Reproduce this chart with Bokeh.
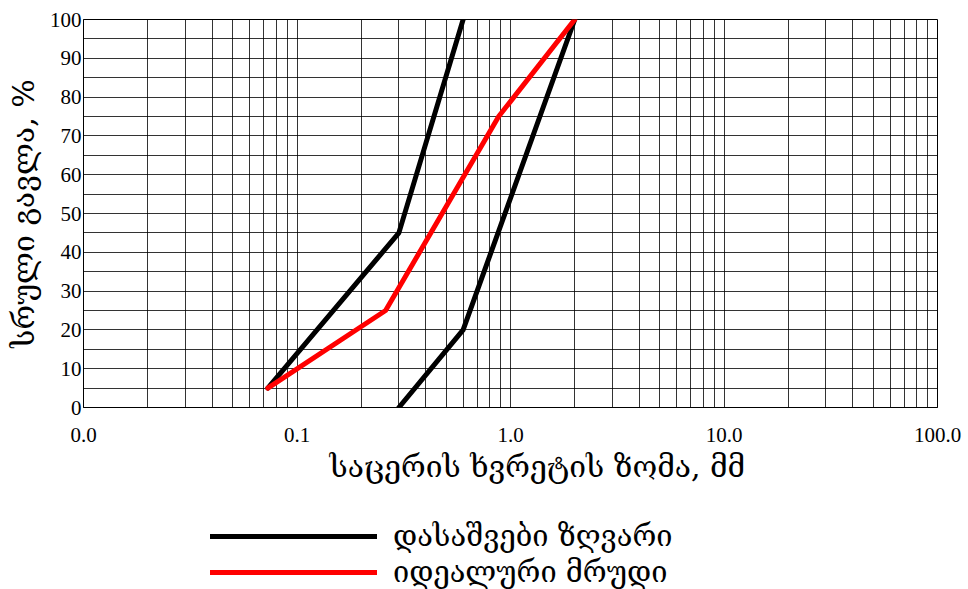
from bokeh.plotting import figure
from bokeh.layouts import column
from bokeh.models import Legend, LegendItem, FixedTicker, Range1d, Title
from bokeh.embed import file_html
from bokeh.resources import INLINE

# Grain size distribution: sieve opening (mm) vs. total passing (%)
limit_fine_size = [0.073, 0.3, 0.6]
limit_fine_pass = [5, 45, 100]
limit_coarse_size = [0.3, 0.6, 2.0]
limit_coarse_pass = [0, 20, 100]
ideal_size = [0.073, 0.26, 0.88, 2.0]
ideal_pass = [5, 25, 75, 100]

x_ticks = [0.01, 0.1, 1, 10, 100]
x_tick_labels = ["0.0", "0.1", "1.0", "10.0", "100.0"]
y_ticks = list(range(0, 101, 10))
y_minor = list(range(5, 100, 10))

x_title = "საცერის ხვრეტის ზომა, მმ"
y_title = "სრული გავლა, %"
label_limits = "დასაშვები ზღვარი"
label_ideal = "იდეალური მრუდი"

GEO_FONT = "DejaVu Serif"
NUM_FONT = "Liberation Serif"

LIMIT_STYLE = dict(line_color="black", line_width=5, line_cap="round", line_join="round")
IDEAL_STYLE = dict(line_color="#ff0000", line_width=5, line_cap="round", line_join="round")

p = figure(
    width=968, height=492,
    frame_width=854, frame_height=388,
    min_border_left=83, min_border_right=31, min_border_top=19, min_border_bottom=85,
    x_axis_type="log",
    x_range=Range1d(0.01, 100), y_range=Range1d(0, 100),
    output_backend="svg", toolbar_location=None,
    background_fill_color="white", border_fill_color="white",
)

# log-scale minor positions 2..9 in each decade
x_minor = [m * 10.0 ** e for e in range(-2, 2) for m in range(2, 10)]
p.xaxis.ticker = FixedTicker(ticks=x_ticks, minor_ticks=x_minor)
p.yaxis.ticker = FixedTicker(ticks=y_ticks, minor_ticks=y_minor)
p.xaxis.major_label_overrides = {t: s for t, s in zip(x_ticks, x_tick_labels)}

for g in (p.xgrid, p.ygrid):
    g.grid_line_color = "black"
    g.grid_line_alpha = 0.8
    g.grid_line_width = 1
    g.minor_grid_line_color = "black"
    g.minor_grid_line_alpha = 0.8
    g.minor_grid_line_width = 1

p.outline_line_color = "black"
p.outline_line_width = 1

for ax in (p.xaxis, p.yaxis):
    ax.axis_line_color = "black"
    ax.major_tick_out = 0
    ax.major_tick_in = 0
    ax.minor_tick_out = 0
    ax.minor_tick_in = 0
    ax.major_label_text_font = NUM_FONT
    ax.major_label_text_font_style = "normal"
    ax.major_label_text_font_size = "21px"
    ax.major_label_text_color = "black"
    ax.axis_label_text_font = GEO_FONT
    ax.axis_label_text_font_style = "normal"
    ax.axis_label_text_font_size = "30px"
    ax.axis_label_text_color = "black"

p.yaxis.axis_label = y_title
p.xaxis.major_label_standoff = 20
p.yaxis.major_label_standoff = 2
p.yaxis.axis_label_standoff = 6

# x title as a below-title, left-aligned with an offset so it sits right of centre
p.add_layout(Title(text=x_title, align="left", offset=246, standoff=5,
                   text_font=GEO_FONT, text_font_size="30px",
                   text_font_style="normal", text_color="black"), "below")

p.line(limit_fine_size, limit_fine_pass, **LIMIT_STYLE)
p.line(limit_coarse_size, limit_coarse_pass, **LIMIT_STYLE)
p.line(ideal_size, ideal_pass, **IDEAL_STYLE)

# legend strip underneath the chart; its key lines lie outside the visible range
leg = figure(
    width=968, height=97, frame_width=968, frame_height=97,
    min_border=0, x_range=Range1d(0, 1), y_range=Range1d(0, 1),
    output_backend="svg", toolbar_location=None,
    x_axis_location=None, y_axis_location=None,
    outline_line_color=None, background_fill_color="white", border_fill_color="white",
)
leg.xgrid.visible = False
leg.ygrid.visible = False
k_limit = leg.line([-2, -1], [-2, -1], **LIMIT_STYLE)
k_ideal = leg.line([-2, -1], [-2, -1], **IDEAL_STYLE)
legend = Legend(
    items=[LegendItem(label=label_limits, renderers=[k_limit]),
           LegendItem(label=label_ideal, renderers=[k_ideal])],
    location=(210, 0), orientation="vertical",
    glyph_width=167, glyph_height=34, label_standoff=16, spacing=2,
    label_text_font=GEO_FONT, label_text_font_size="29px", label_text_color="black",
    border_line_color=None, background_fill_alpha=0, padding=0, margin=0,
)
leg.add_layout(legend, "center")

layout = column(p, leg, spacing=0)
open("out.html", "w").write(file_html(layout, INLINE))
